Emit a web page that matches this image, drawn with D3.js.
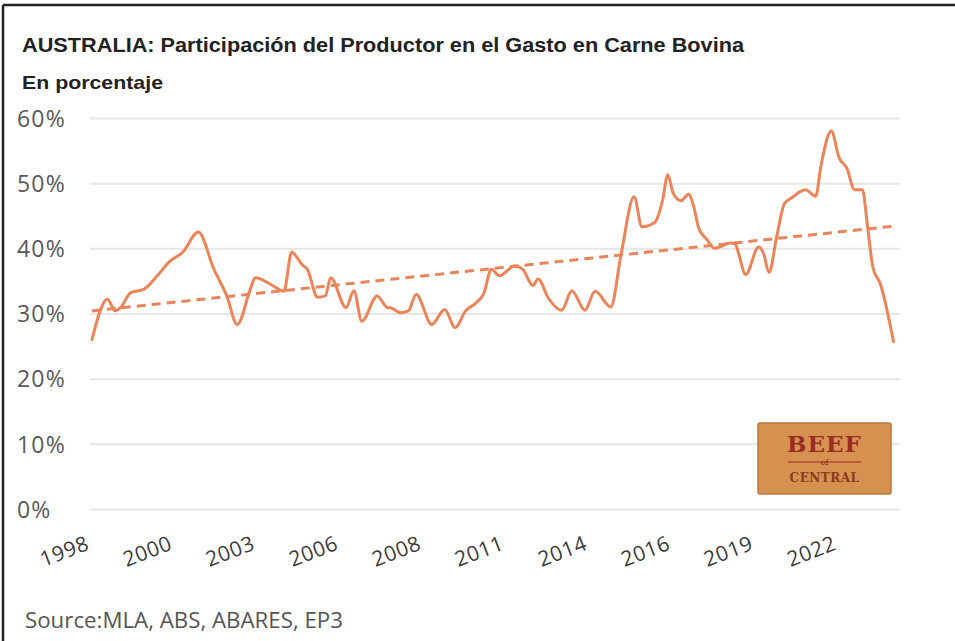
<!DOCTYPE html>
<html>
<head>
<meta charset="utf-8">
<script src="https://cdn.jsdelivr.net/npm/d3@7"></script>
<style>
  html, body { margin: 0; padding: 0; background: #fff; }
  svg { display: block; }
</style>
</head>
<body>
<svg id="chart" width="955" height="641"></svg>
<script>
// ---- data ----
const titleText = "AUSTRALIA: Participación del Productor en el Gasto en Carne Bovina";
const subtitleText = "En porcentaje";
const sourceText = "Source:MLA, ABS, ABARES, EP3";

const dates = ["1998-01","1998-07","1998-10","1998-12","1999-04","1999-09","2000-02","2000-07","2000-12","2001-06",
  "2001-12","2002-05","2002-09","2003-02","2003-04","2003-11","2004-03","2004-06","2004-10","2004-12",
  "2005-04","2005-07","2005-09","2006-03","2006-06","2006-09","2007-03","2007-07","2007-08","2007-12",
  "2008-03","2008-06","2008-12","2009-05","2009-09","2010-01","2010-05","2010-08","2010-11","2011-02",
  "2011-08","2011-11","2012-03","2012-05","2012-09","2013-02","2013-06","2013-11","2014-03","2014-09",
  "2015-01","2015-06","2015-09","2016-02","2016-05","2016-07","2016-09","2016-12","2017-03","2017-05",
  "2017-07","2017-10","2018-01","2018-03","2018-07","2018-09","2018-10","2019-01","2019-06","2019-08",
  "2019-10","2020-01","2020-04","2020-07","2020-10","2020-12","2021-04","2021-06","2021-10","2022-01",
  "2022-04","2022-07","2022-10","2022-12","2023-02","2023-05","2023-10"];
const shareValues = [26.0,32.2,30.4,30.9,33.2,33.7,35.7,38.0,39.4,42.5,
  36.8,32.7,28.3,33.7,35.5,34.2,33.4,39.4,37.5,36.8,
  32.5,32.7,35.5,30.9,33.5,28.8,32.7,30.9,30.9,30.1,
  30.4,32.9,28.3,30.6,27.8,30.4,31.6,33.0,36.8,35.8,
  37.3,36.8,34.3,35.3,32.3,30.5,33.5,30.5,33.4,31.0,
  39.2,47.9,43.3,44.0,47.4,51.3,48.5,47.3,48.3,46.4,
  43.0,41.4,40.0,40.2,40.8,40.7,39.6,36.0,40.2,39.1,
  36.3,41.9,46.9,47.8,48.7,49.0,48.0,52.6,58.0,53.9,
  52.3,49.0,49.0,43.3,37.1,34.5,25.7];

const trendDates = ["1998-01","2023-10"];
const trendValues = [30.4, 43.4];

const xTickDates = ["1998-01","2000-09","2003-05","2006-01","2008-09","2011-05","2014-01","2016-09","2019-05","2022-01"];
const yTickValues = [0,10,20,30,40,50,60];

// ---- drawing ----
const parse = d3.timeParse("%Y-%m");
const svg = d3.select("#chart");

const x = d3.scaleTime()
  .domain([parse("1998-01"), parse("2023-10")])
  .range([92, 893.5]);
const y = d3.scaleLinear().domain([0, 60]).range([509, 118]);

// frame (top + left)
svg.append("line").attr("x1", 3).attr("x2", 955).attr("y1", 5).attr("y2", 5)
  .attr("stroke", "#222").attr("stroke-width", 2.5);
svg.append("line").attr("x1", 3).attr("x2", 3).attr("y1", 5).attr("y2", 641)
  .attr("stroke", "#222").attr("stroke-width", 2.5);

// title
svg.append("text").attr("x", 22).attr("y", 52)
  .attr("font-family", "Liberation Sans, Arial, sans-serif")
  .attr("font-weight", "bold").attr("font-size", 20).attr("fill", "#222")
  .attr("textLength", 722).attr("lengthAdjust", "spacingAndGlyphs")
  .text(titleText);
svg.append("text").attr("x", 22).attr("y", 89)
  .attr("font-family", "Liberation Sans, Arial, sans-serif")
  .attr("font-weight", "bold").attr("font-size", 19).attr("fill", "#222")
  .attr("textLength", 141).attr("lengthAdjust", "spacingAndGlyphs")
  .text(subtitleText);

// y axis: gridlines + labels
const yAxis = d3.axisLeft(y).tickValues(yTickValues)
  .tickSize(-(900 - 90)).tickFormat(d => d + "%");
const gy = svg.append("g").attr("transform", "translate(90,0)").call(yAxis);
gy.select(".domain").remove();
gy.selectAll(".tick line").attr("stroke", "#e6e6e6").attr("stroke-width", 2);
gy.selectAll(".tick text")
  .attr("x", -73).attr("dy", "0.36em").attr("text-anchor", "start")
  .attr("font-family", "Open Sans, sans-serif").attr("font-size", 23)
  .attr("letter-spacing", 1.2)
  .attr("fill", "#595959");

// x axis labels
const xAxis = d3.axisBottom(x).tickValues(xTickDates.map(parse))
  .tickSize(0).tickFormat(d3.timeFormat("%Y"));
const gx = svg.append("g").attr("transform", "translate(0,509)").call(xAxis);
gx.select(".domain").remove();
gx.selectAll(".tick text")
  .attr("text-anchor", "end")
  .attr("x", -2).attr("y", 40).attr("dy", 0)
  .attr("transform", "rotate(-21,-2,40)")
  .attr("font-family", "Open Sans, sans-serif").attr("font-size", 21)
  .attr("letter-spacing", 0.6)
  .attr("fill", "#3a3a3a");

// logo
const logo = svg.append("g");
logo.append("rect").attr("x", 758).attr("y", 423).attr("width", 133).attr("height", 71)
  .attr("rx", 2).attr("fill", "#d69150").attr("stroke", "#b9773c").attr("stroke-width", 1.5);
logo.append("text").attr("x", 824.5).attr("y", 452).attr("text-anchor", "middle")
  .attr("font-family", "DejaVu Serif, serif").attr("font-weight", "bold")
  .attr("font-size", 23).attr("fill", "#9a2d22").attr("letter-spacing", 1).text("BEEF");
logo.append("line").attr("x1", 788).attr("x2", 861).attr("y1", 462).attr("y2", 462)
  .attr("stroke", "#9a2d22").attr("stroke-width", 1);
logo.append("text").attr("x", 824.5).attr("y", 465).attr("text-anchor", "middle")
  .attr("font-family", "DejaVu Serif, serif").attr("font-size", 8).attr("fill", "#7a2a1e")
  .text("of");
logo.append("text").attr("x", 824.5).attr("y", 482).attr("text-anchor", "middle")
  .attr("font-family", "DejaVu Serif, serif").attr("font-weight", "bold")
  .attr("font-size", 12).attr("fill", "#8a3a22").attr("letter-spacing", 0.5).text("CENTRAL");

// data line
const series = dates.map((d, i) => ({ date: parse(d), value: shareValues[i] }));
const line = d3.line().x(d => x(d.date)).y(d => y(d.value)).curve(d3.curveMonotoneX);
svg.append("path").datum(series).attr("d", line)
  .attr("fill", "none").attr("stroke", "#ec8459").attr("stroke-width", 3)
  .attr("stroke-linejoin", "round").attr("stroke-linecap", "round");

// trend line
const trend = trendDates.map((d, i) => ({ date: parse(d), value: trendValues[i] }));
svg.append("path").datum(trend).attr("d", d3.line().x(d => x(d.date)).y(d => y(d.value)))
  .attr("fill", "none").attr("stroke", "#e8845a").attr("stroke-width", 3)
  .attr("stroke-dasharray", "9,6");

// source
svg.append("text").attr("x", 25).attr("y", 628)
  .attr("font-family", "Open Sans, sans-serif").attr("font-size", 21)
  .attr("textLength", 318).attr("lengthAdjust", "spacingAndGlyphs")
  .attr("fill", "#555").text(sourceText);
</script>
</body>
</html>
